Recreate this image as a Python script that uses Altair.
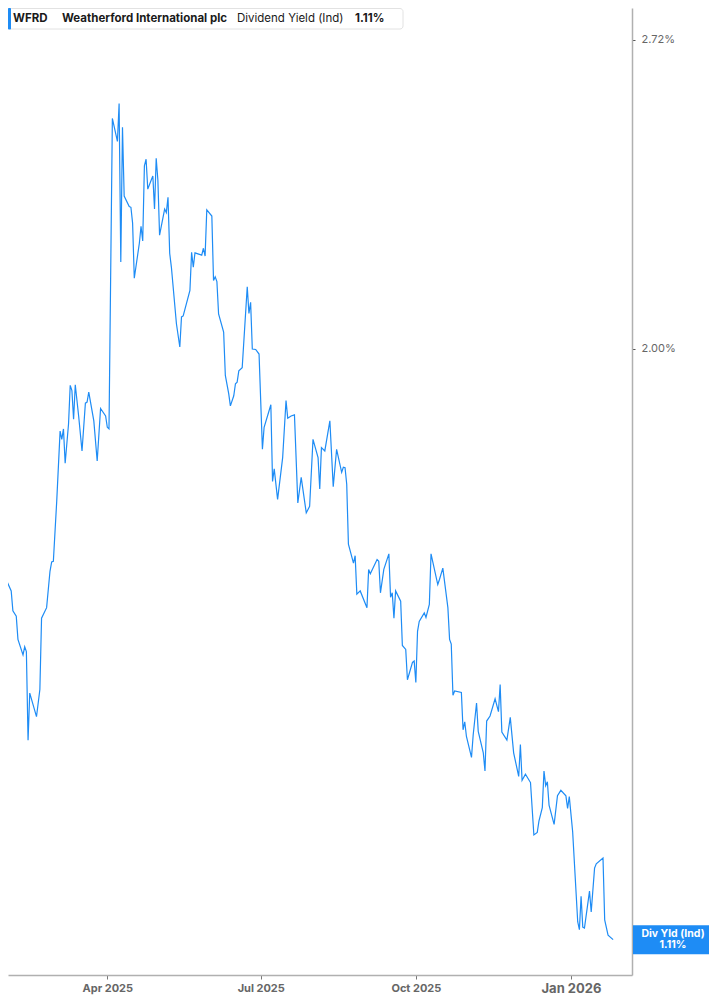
import altair as alt
import pandas as pd

# daily dividend yield (%)
dates = [
    "2025-01-27", "2025-01-28", "2025-01-29", "2025-01-31", "2025-02-03", "2025-02-04",
    "2025-02-06", "2025-02-07", "2025-02-10", "2025-02-11", "2025-02-12", "2025-02-13",
    "2025-02-14", "2025-02-18", "2025-02-20", "2025-02-21", "2025-02-24", "2025-02-26",
    "2025-02-27", "2025-02-28", "2025-03-02", "2025-03-04", "2025-03-05", "2025-03-06",
    "2025-03-07", "2025-03-09", "2025-03-10", "2025-03-11", "2025-03-12", "2025-03-13",
    "2025-03-15", "2025-03-17", "2025-03-19", "2025-03-20", "2025-03-21", "2025-03-24",
    "2025-03-26", "2025-03-28", "2025-03-31", "2025-04-01", "2025-04-02", "2025-04-04",
    "2025-04-07", "2025-04-08", "2025-04-09", "2025-04-10", "2025-04-11", "2025-04-14",
    "2025-04-15", "2025-04-16", "2025-04-17", "2025-04-20", "2025-04-21", "2025-04-22",
    "2025-04-23", "2025-04-24", "2025-04-25", "2025-04-27", "2025-04-28", "2025-04-29",
    "2025-04-30", "2025-05-01", "2025-05-02", "2025-05-05", "2025-05-06", "2025-05-07",
    "2025-05-08", "2025-05-09", "2025-05-12", "2025-05-14", "2025-05-15", "2025-05-16",
    "2025-05-20", "2025-05-21", "2025-05-22", "2025-05-23", "2025-05-27", "2025-05-28",
    "2025-05-29", "2025-05-30", "2025-06-02", "2025-06-03", "2025-06-04", "2025-06-05",
    "2025-06-06", "2025-06-09", "2025-06-10", "2025-06-12", "2025-06-13", "2025-06-15",
    "2025-06-16", "2025-06-17", "2025-06-18", "2025-06-20", "2025-06-23", "2025-06-24",
    "2025-06-25", "2025-06-26", "2025-06-28", "2025-06-30", "2025-07-02", "2025-07-03",
    "2025-07-07", "2025-07-08", "2025-07-09", "2025-07-11", "2025-07-14", "2025-07-16",
    "2025-07-17", "2025-07-19", "2025-07-21", "2025-07-23", "2025-07-25", "2025-07-28",
    "2025-07-30", "2025-08-01", "2025-08-04", "2025-08-05", "2025-08-06", "2025-08-08",
    "2025-08-11", "2025-08-13", "2025-08-15", "2025-08-18", "2025-08-19", "2025-08-20",
    "2025-08-21", "2025-08-22", "2025-08-25", "2025-08-26", "2025-08-27", "2025-08-29",
    "2025-09-02", "2025-09-03", "2025-09-04", "2025-09-08", "2025-09-09", "2025-09-10",
    "2025-09-12", "2025-09-15", "2025-09-16", "2025-09-17", "2025-09-18", "2025-09-19",
    "2025-09-22", "2025-09-23", "2025-09-25", "2025-09-26", "2025-09-29", "2025-09-30",
    "2025-10-01", "2025-10-02", "2025-10-03", "2025-10-06", "2025-10-07", "2025-10-09",
    "2025-10-10", "2025-10-14", "2025-10-15", "2025-10-17", "2025-10-20", "2025-10-21",
    "2025-10-22", "2025-10-23", "2025-10-24", "2025-10-28", "2025-10-29", "2025-10-30",
    "2025-10-31", "2025-11-03", "2025-11-04", "2025-11-06", "2025-11-07", "2025-11-10",
    "2025-11-11", "2025-11-12", "2025-11-14", "2025-11-17", "2025-11-19", "2025-11-20",
    "2025-11-21", "2025-11-24", "2025-11-26", "2025-11-28", "2025-12-01", "2025-12-02",
    "2025-12-03", "2025-12-05", "2025-12-08", "2025-12-10", "2025-12-12", "2025-12-13",
    "2025-12-15", "2025-12-16", "2025-12-17", "2025-12-18", "2025-12-19", "2025-12-22",
    "2025-12-24", "2025-12-26", "2025-12-29", "2025-12-30", "2025-12-31", "2026-01-02",
    "2026-01-05", "2026-01-06", "2026-01-07", "2026-01-08", "2026-01-09", "2026-01-12",
    "2026-01-13", "2026-01-15", "2026-01-16", "2026-01-20", "2026-01-21", "2026-01-23",
    "2026-01-26",
]

yields = [
    1.455, 1.514, 1.521, 1.589, 1.571, 1.540,
    1.532, 1.497, 1.474, 1.486, 1.479, 1.354,
    1.419, 1.386, 1.424, 1.529, 1.545, 1.602,
    1.617, 1.618, 1.718, 1.842, 1.827, 1.846,
    1.784, 1.855, 1.928, 1.918, 1.864, 1.929,
    1.870, 1.806, 1.894, 1.896, 1.915, 1.861,
    1.788, 1.884, 1.870, 1.849, 1.846, 2.515,
    2.458, 2.553, 2.180, 2.493, 2.328, 2.304,
    2.302, 2.266, 2.145, 2.221, 2.259, 2.226,
    2.399, 2.415, 2.344, 2.365, 2.375, 2.298,
    2.417, 2.365, 2.239, 2.298, 2.290, 2.325,
    2.199, 2.169, 2.050, 2.003, 2.064, 2.066,
    2.119, 2.201, 2.169, 2.200, 2.195, 2.210,
    2.193, 2.296, 2.282, 2.140, 2.148, 2.138,
    2.070, 2.033, 1.947, 1.912, 1.889, 1.908,
    1.931, 1.934, 1.956, 1.962, 2.127, 2.071,
    2.094, 1.999, 1.998, 1.989, 1.809, 1.849,
    1.891, 1.752, 1.774, 1.721, 1.794, 1.899,
    1.866, 1.870, 1.872, 1.715, 1.759, 1.698,
    1.709, 1.827, 1.794, 1.739, 1.812, 1.806,
    1.861, 1.743, 1.809, 1.768, 1.777, 1.776,
    1.747, 1.646, 1.615, 1.627, 1.566, 1.571,
    1.545, 1.605, 1.598, 1.621, 1.618, 1.568,
    1.605, 1.630, 1.561, 1.568, 1.529, 1.571,
    1.555, 1.488, 1.482, 1.438, 1.463, 1.465,
    1.434, 1.509, 1.524, 1.537, 1.530, 1.550,
    1.630, 1.581, 1.589, 1.607, 1.545, 1.497,
    1.490, 1.416, 1.422, 1.420, 1.368, 1.379,
    1.359, 1.331, 1.361, 1.405, 1.366, 1.337,
    1.313, 1.380, 1.387, 1.411, 1.393, 1.431,
    1.365, 1.354, 1.385, 1.337, 1.306, 1.348,
    1.301, 1.309, 1.298, 1.232, 1.235, 1.249,
    1.266, 1.313, 1.294, 1.299, 1.269, 1.245,
    1.281, 1.288, 1.281, 1.265, 1.280, 1.236,
    1.130, 1.121, 1.159, 1.124, 1.123, 1.165,
    1.141, 1.192, 1.197, 1.204, 1.132, 1.115,
    1.110,
]

ticker = "WFRD"
company = "Weatherford International plc"
metric = "Dividend Yield (Ind)"
metric_short = "Div Yld (Ind)"
y_ticks = [2.00, 2.72]

BLUE = "#1e8cf5"
FONT = "Inter"
W, H = 624, 967

df = pd.DataFrame({"date": dates, "yld": yields})
last = df.tail(1).copy()
last["pct"] = last["yld"].map(lambda v: f"{v:.2f}%")
current_text = last["pct"].iloc[0]

x_scale = alt.Scale(
    type="utc",
    domain=[
        alt.DateTime(year=2025, month=2, date=1, hours=2, minutes=24, utc=True),
        alt.DateTime(year=2026, month=2, date=6, hours=4, minutes=48, utc=True),
    ],
)
y_scale = alt.Scale(type="log", domain=[1.0716, 2.8075], nice=False, zero=False)

x_axis = alt.Axis(
    values=[
        alt.DateTime(year=2025, month=4, date=1, utc=True),
        alt.DateTime(year=2025, month=7, date=1, utc=True),
        alt.DateTime(year=2025, month=10, date=1, utc=True),
        alt.DateTime(year=2026, month=1, date=1, utc=True),
    ],
    labelExpr="utcFormat(datum.value, '%b %Y')",
    labelFont=FONT,
    labelFontSize={"condition": {"test": "utcmonth(datum.value) === 0", "value": 13}, "value": 11},
    labelFontWeight="bold",
    labelColor="#666666",
    labelPadding=3,
    tickSize=4,
    tickColor="#777777",
    domainColor="#b0b0b0",
    domainWidth=1.5,
    grid=False,
    title=None,
)
y_axis = alt.Axis(
    orient="right",
    values=y_ticks,
    labelExpr="format(datum.value, '.2f') + '%'",
    labelFont=FONT,
    labelFontSize=11,
    labelColor="#666666",
    labelPadding=6,
    tickSize=3,
    tickColor="#555555",
    domainColor="#b0b0b0",
    domainWidth=1.5,
    grid=False,
    title=None,
)

line = (
    alt.Chart(df)
    .mark_line(color=BLUE, strokeWidth=1.2, clip=True)
    .encode(
        x=alt.X("date:T", scale=x_scale, axis=x_axis),
        y=alt.Y("yld:Q", scale=y_scale, axis=y_axis),
    )
)

# header box at top left
one = pd.DataFrame({"k": [0]})
header_box = (
    alt.Chart(one)
    .mark_rect(fill="white", stroke="#e2e2e2", strokeWidth=1, cornerRadius=3)
    .encode(x=alt.value(0.5), x2=alt.value(395), y=alt.value(0.5), y2=alt.value(21))
)
header_bar = (
    alt.Chart(one)
    .mark_rect(fill=BLUE, cornerRadius=1)
    .encode(x=alt.value(0), x2=alt.value(3), y=alt.value(0), y2=alt.value(21.5))
)


def header_text(text, x, bold):
    return (
        alt.Chart(pd.DataFrame({"t": [text]}))
        .mark_text(
            align="left",
            baseline="middle",
            font=FONT,
            fontSize=11.5,
            fontWeight="bold" if bold else "normal",
            color="#1a1a1a",
        )
        .encode(x=alt.value(x), y=alt.value(10.5), text="t:N")
    )


header = [
    header_box,
    header_bar,
    header_text(ticker, 5, True),
    header_text(company, 54, True),
    header_text(metric, 229, False),
    header_text(current_text, 347, True),
]

# last value tag on the right axis
tag_box = (
    alt.Chart(last)
    .mark_rule(color=BLUE, strokeWidth=29)
    .encode(x=alt.value(625), x2=alt.value(701), y=alt.Y("yld:Q"))
)
tag_name = (
    alt.Chart(last)
    .mark_text(color="white", font=FONT, fontSize=10.5, fontWeight="bold", dy=-5.6)
    .encode(x=alt.value(665), y=alt.Y("yld:Q"), text=alt.value(metric_short))
)
tag_val = (
    alt.Chart(last)
    .mark_text(color="white", font=FONT, fontSize=10.5, fontWeight="bold", dy=5.6)
    .encode(x=alt.value(665), y=alt.Y("yld:Q"), text="pct:N")
)

chart = (
    alt.layer(line, *header, tag_box, tag_name, tag_val)
    .properties(
        width=W,
        height=H,
        autosize=alt.AutoSizeParams(type="none"),
        padding={"left": 0, "top": 0, "right": 77, "bottom": 22},
        background="white",
    )
    .configure_view(stroke=None)
)

chart.save("out.html", embed_options={"renderer": "svg", "actions": False})
